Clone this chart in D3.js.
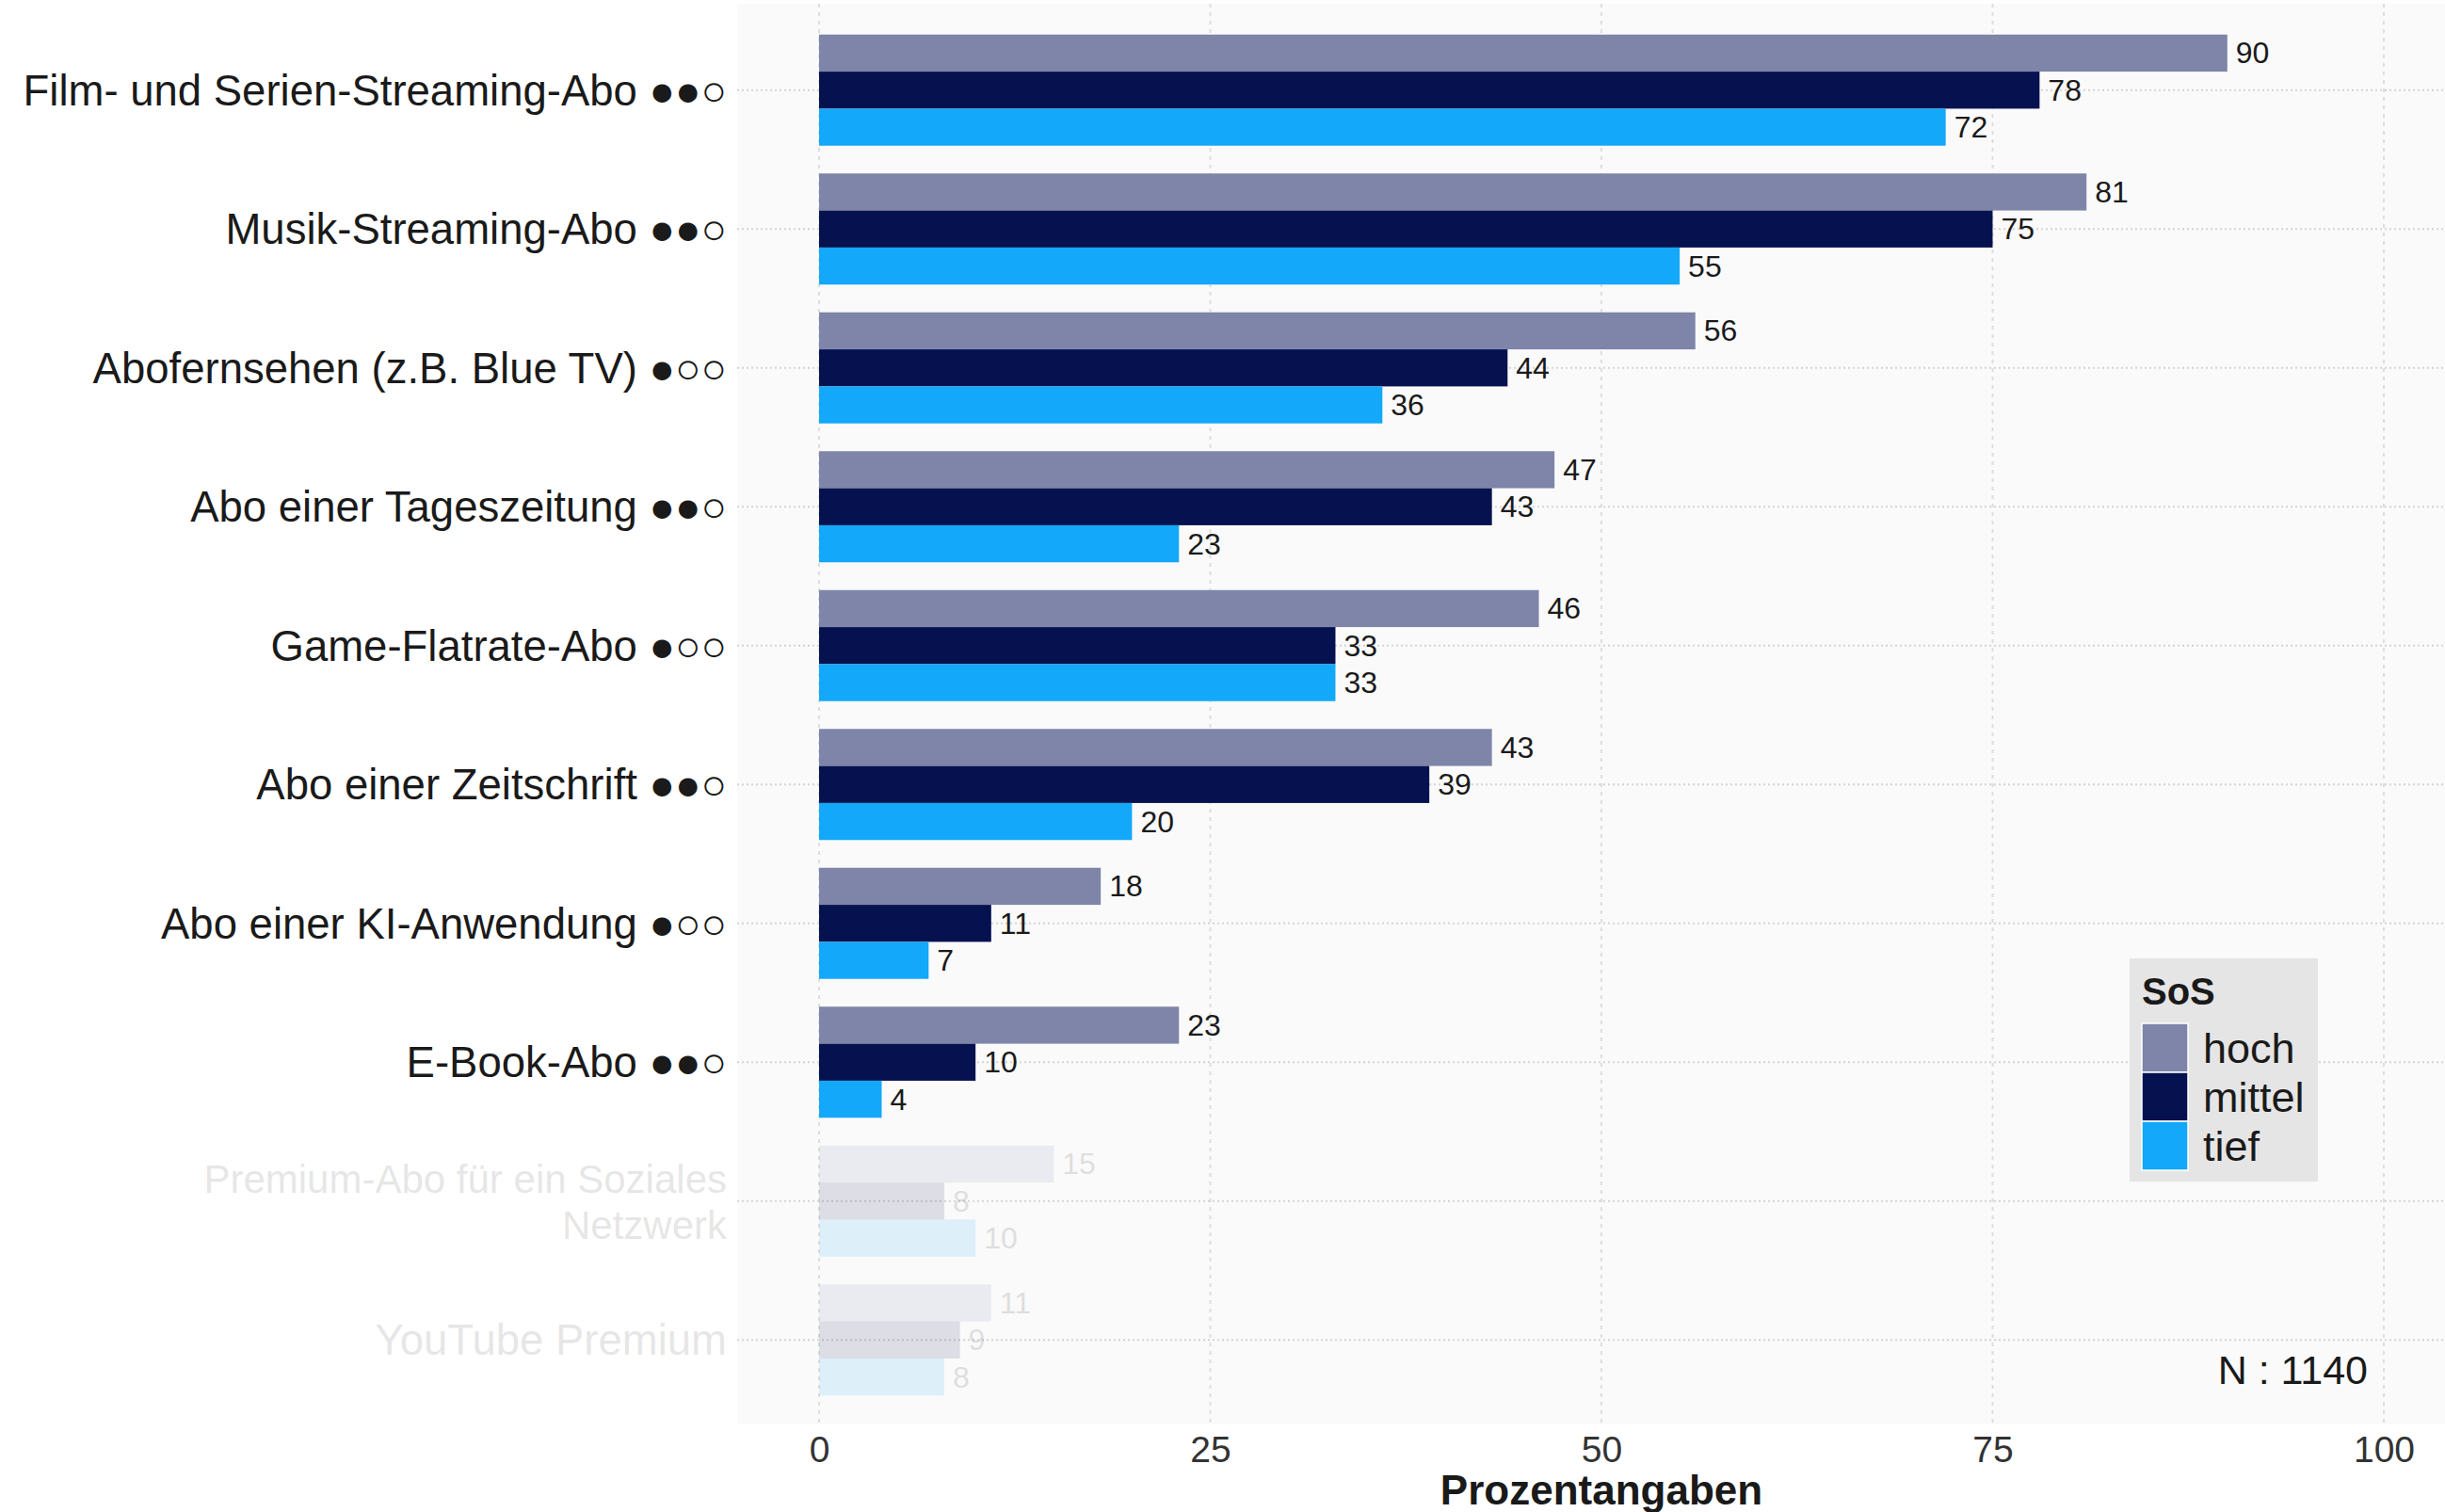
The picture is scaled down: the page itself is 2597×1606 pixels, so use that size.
<!DOCTYPE html>
<html>
<head>
<meta charset="utf-8">
<script src="https://cdn.jsdelivr.net/npm/d3@7"></script>
<style>
  body { margin: 0; background: #fff; }
  text { font-family: "Liberation Sans", Arial, sans-serif; }
</style>
</head>
<body>
<div id="viz"></div>
<script>
// Daten
const categories = [
  "Film- und Serien-Streaming-Abo",
  "Musik-Streaming-Abo",
  "Abofernsehen (z.B. Blue TV)",
  "Abo einer Tageszeitung",
  "Game-Flatrate-Abo",
  "Abo einer Zeitschrift",
  "Abo einer KI-Anwendung",
  "E-Book-Abo",
  "Premium-Abo für ein Soziales\nNetzwerk",
  "YouTube Premium"
];
const ratings = ["●●○", "●●○", "●○○", "●●○", "●○○", "●●○", "●○○", "●●○", "", ""];
const faded = ["Premium-Abo für ein Soziales\nNetzwerk", "YouTube Premium"];
const series = ["hoch", "mittel", "tief"];
const hoch   = [90, 81, 56, 47, 46, 43, 18, 23, 15, 11];
const mittel = [78, 75, 44, 43, 33, 39, 11, 10,  8,  9];
const tief   = [72, 55, 36, 23, 33, 20,  7,  4, 10,  8];
const xTicks = [0, 25, 50, 75, 100];
const colors = ["#7e85a9", "#05124f", "#13a8f9"];
const nLabel = "N : 1140";

const width = 2597, height = 1606;
const panel = { x0: 783, x1: width, y0: 4, y1: 1513 };

const svg = d3.select("#viz").append("svg")
  .attr("width", width)
  .attr("height", height);

const x = d3.scaleLinear().domain([0, 100]).range([870, 2532]);
const y = d3.scaleBand().domain(categories).range([22, 1497])
  .paddingInner(0.2).paddingOuter(0.1);
const ys = d3.scaleBand().domain(series).range([0, y.bandwidth()]);
const color = d3.scaleOrdinal().domain(series).range(colors);

const values = { hoch: hoch, mittel: mittel, tief: tief };
const rows = [];
categories.forEach((c, i) => {
  series.forEach(s => rows.push({ cat: c, s: s, v: values[s][i] }));
});
const op = c => faded.includes(c) ? 0.12 : 1;

// Panel-Hintergrund
svg.append("rect")
  .attr("x", panel.x0).attr("y", panel.y0)
  .attr("width", panel.x1 - panel.x0).attr("height", panel.y1 - panel.y0)
  .attr("fill", "#fafafa");

// Gitterlinien
svg.append("g").selectAll("line").data(xTicks).join("line")
  .attr("x1", d => x(d)).attr("x2", d => x(d))
  .attr("y1", panel.y0).attr("y2", panel.y1)
  .attr("stroke", "#dedede").attr("stroke-width", 2)
  .attr("stroke-dasharray", "4,5");

svg.append("g").selectAll("line").data(categories).join("line")
  .attr("x1", panel.x0).attr("x2", panel.x1)
  .attr("y1", d => y(d) + y.bandwidth() / 2)
  .attr("y2", d => y(d) + y.bandwidth() / 2)
  .attr("stroke", "#d4d4d4").attr("stroke-width", 2)
  .attr("stroke-dasharray", "2,3");

// Balken
svg.append("g").selectAll("rect").data(rows).join("rect")
  .attr("x", x(0))
  .attr("y", d => y(d.cat) + ys(d.s))
  .attr("width", d => x(d.v) - x(0))
  .attr("height", ys.bandwidth())
  .attr("fill", d => color(d.s))
  .attr("opacity", d => op(d.cat));

// Werte
svg.append("g").selectAll("text").data(rows).join("text")
  .attr("x", d => x(d.v) + 9)
  .attr("y", d => y(d.cat) + ys(d.s) + ys.bandwidth() / 2 + 11)
  .attr("font-size", 32)
  .attr("fill", "#1a1a1a")
  .attr("opacity", d => op(d.cat))
  .text(d => d.v);

// Kategorien (umbrochene Beschriftung etwas kleiner)
const lab = svg.append("g").selectAll("text").data(categories).join("text")
  .attr("text-anchor", "end")
  .attr("font-size", d => d.includes("\n") ? 42 : 45.5)
  .attr("fill", "#1a1a1a")
  .attr("opacity", d => op(d) === 1 ? 1 : 0.1);

lab.each(function (d, i) {
  const lines = d.split("\n");
  const cy = y(d) + y.bandwidth() / 2;
  const t = d3.select(this);
  lines.forEach((ln, j) => {
    t.append("tspan")
      .attr("x", 772)
      .attr("y", cy + 16 + (j - (lines.length - 1) / 2) * 49)
      .text(ln + (ratings[i] && j === lines.length - 1 ? " " + ratings[i] : ""));
  });
});

// x-Achse
const axis = svg.append("g")
  .attr("transform", `translate(0,${panel.y1})`)
  .call(d3.axisBottom(x).tickValues(xTicks).tickSize(0).tickPadding(12));
axis.select(".domain").remove();
axis.selectAll("text")
  .attr("font-size", 39)
  .attr("fill", "#333")
  .style("font-family", "'Liberation Sans', Arial, sans-serif");

svg.append("text")
  .attr("x", x(50)).attr("y", 1598)
  .attr("text-anchor", "middle")
  .attr("font-size", 44)
  .attr("font-weight", "bold")
  .attr("fill", "#1a1a1a")
  .text("Prozentangaben");

svg.append("text")
  .attr("x", 2515).attr("y", 1470)
  .attr("text-anchor", "end")
  .attr("font-size", 43)
  .attr("fill", "#1a1a1a")
  .text(nLabel);

// Legende
const lg = svg.append("g");
lg.append("rect")
  .attr("x", 2262).attr("y", 1018)
  .attr("width", 200).attr("height", 237)
  .attr("fill", "#e5e5e5");
lg.append("text")
  .attr("x", 2275).attr("y", 1067)
  .attr("font-size", 40).attr("font-weight", "bold")
  .attr("fill", "#1a1a1a")
  .text("SoS");
const ly = d3.scaleBand().domain(series).range([1087, 1243]);
lg.selectAll(".key").data(series).join("rect")
  .attr("x", 2275).attr("y", d => ly(d))
  .attr("width", 49).attr("height", ly.bandwidth())
  .attr("fill", d => color(d))
  .attr("stroke", "#fff").attr("stroke-width", 1.5);
lg.selectAll(".lab").data(series).join("text")
  .attr("x", 2340)
  .attr("y", d => ly(d) + ly.bandwidth() / 2 + 16)
  .attr("font-size", 45)
  .attr("fill", "#1a1a1a")
  .text(d => d);
</script>
</body>
</html>
